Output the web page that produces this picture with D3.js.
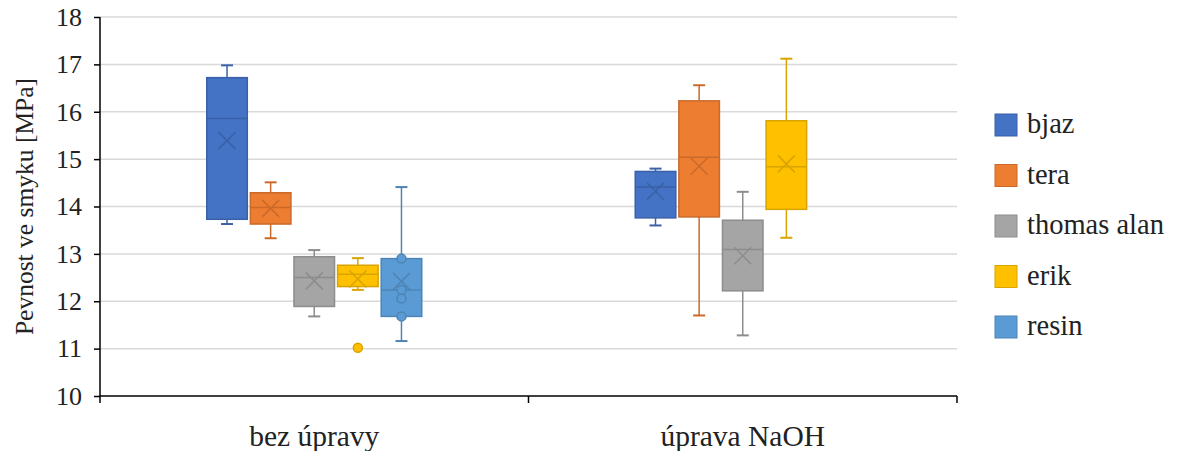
<!DOCTYPE html>
<html>
<head>
<meta charset="utf-8">
<script src="https://cdn.jsdelivr.net/npm/d3@7"></script>
<style>
  html, body { margin: 0; padding: 0; background: #fff; }
  svg { display: block; }
  svg text { font-family: 'Liberation Serif', 'Times New Roman', serif; }
</style>
</head>
<body>
<svg id="chart" width="1178" height="451"></svg>
<script>
// Shear strength of bonded joints: untreated vs NaOH-treated surfaces
const categories = ["bez úpravy", "úprava NaOH"];
const seriesNames = ["bjaz", "tera", "thomas alan", "erik", "resin"];
const seriesColors = ["#4472C4", "#ED7D31", "#A5A5A5", "#FFC000", "#5B9BD5"];
const yTicks = [10, 11, 12, 13, 14, 15, 16, 17, 18];

// Box statistics per series, one entry per category:
// [lower whisker, Q1, median, Q3, upper whisker, mean]
const bjaz = [[13.63, 13.73, 15.86, 16.72, 16.98, 15.39], [13.60, 13.76, 14.41, 14.74, 14.80, 14.32]];
const tera = [[13.33, 13.63, 13.98, 14.29, 14.51, 13.96], [11.70, 13.78, 15.04, 16.23, 16.56, 14.85]];
const thomasAlan = [[11.68, 11.89, 12.50, 12.94, 13.08, 12.43], [11.28, 12.22, 13.09, 13.71, 14.31, 12.96]];
const erik = [[12.24, 12.31, 12.57, 12.76, 12.91, 12.47], [13.34, 13.94, 14.84, 15.81, 17.12, 14.90]];
const resin = [[11.16, 11.68, 12.24, 12.90, 14.41, 12.42], null];

// Outlying and inner points per series, one list per category
const erikOutliers = [[11.02], []];
const resinInnerPoints = [[12.90, 12.24, 12.06, 11.68], []];

const seriesStats = [bjaz, tera, thomasAlan, erik, resin];
const seriesPoints = [[[], []], [[], []], [[], []], erikOutliers, resinInnerPoints];

const FONT = "'Liberation Serif', 'Times New Roman', serif";
const svg = d3.select("#chart");
const plot = { left: 100, right: 957, top: 17, bottom: 396 };

const x = d3.scaleBand().domain(categories).range([plot.left, plot.right]).padding(0);
const y = d3.scaleLinear().domain([10, 18]).range([plot.bottom, plot.top]);
const inner = d3.scaleBand().domain(seriesNames).range([-107.5, 107.5]).paddingInner(0.07);

// gridlines
svg.append("g")
  .selectAll("line")
  .data(yTicks.filter(t => t > 10))
  .join("line")
  .attr("x1", plot.left).attr("x2", plot.right)
  .attr("y1", d => y(d)).attr("y2", d => y(d))
  .attr("stroke", "#d9d9d9").attr("stroke-width", 1.5);

// y axis
const yAxis = svg.append("g")
  .attr("transform", `translate(${plot.left},0)`)
  .call(d3.axisLeft(y).tickValues(yTicks).tickSize(6).tickPadding(12).tickFormat(d3.format("d")));
yAxis.attr("font-family", null).attr("font-size", null);
yAxis.select(".domain").attr("stroke", "#000").attr("stroke-width", 1.5)
  .attr("d", `M0,${plot.top}V${plot.bottom}`);
yAxis.selectAll(".tick line").attr("stroke", "#000").attr("stroke-width", 1.5);
yAxis.selectAll(".tick text")
  .style("font-family", FONT)
  .style("font-size", "26px").attr("fill", "#222");

// x axis
const xAxisG = svg.append("g").attr("transform", `translate(0,${plot.bottom})`);
xAxisG.append("line")
  .attr("x1", plot.left).attr("x2", plot.right)
  .attr("stroke", "#000").attr("stroke-width", 1.5);
const boundaries = [plot.left, ...categories.map(c => x(c) + x.bandwidth())];
xAxisG.selectAll(".xtick")
  .data(boundaries)
  .join("line")
  .attr("class", "xtick")
  .attr("x1", d => d).attr("x2", d => d)
  .attr("y1", 0).attr("y2", 7)
  .attr("stroke", "#000").attr("stroke-width", 1.5);
xAxisG.selectAll(".xlabel")
  .data(categories)
  .join("text")
  .attr("class", "xlabel")
  .attr("x", d => x(d) + x.bandwidth() / 2)
  .attr("y", 50)
  .attr("text-anchor", "middle")
  .style("font-family", FONT)
  .style("font-size", "29.5px").attr("fill", "#222")
  .text(d => d);

// y axis title
svg.append("text")
  .attr("transform", `translate(33,${(plot.top + plot.bottom) / 2}) rotate(-90)`)
  .attr("text-anchor", "middle")
  .style("font-family", FONT)
  .style("font-size", "25.5px").attr("fill", "#222")
  .text("Pevnost ve smyku [MPa]");

// boxes
const boxesG = svg.append("g");
seriesNames.forEach((name, si) => {
  const color = seriesColors[si];
  const dark = d3.color(color).darker(0.45).formatHex();
  categories.forEach((cat, ci) => {
    const s = seriesStats[si][ci];
    if (!s) return;
    const [lo, q1, med, q3, hi, mean] = s;
    const bx = x(cat) + x.bandwidth() / 2 + inner(name);
    const bw = inner.bandwidth();
    const cx = bx + bw / 2;
    const g = boxesG.append("g");
    const capW = 6;
    // whiskers
    g.append("line").attr("x1", cx).attr("x2", cx).attr("y1", y(q3)).attr("y2", y(hi))
      .attr("stroke", dark).attr("stroke-width", 1.5);
    g.append("line").attr("x1", cx).attr("x2", cx).attr("y1", y(q1)).attr("y2", y(lo))
      .attr("stroke", dark).attr("stroke-width", 1.5);
    g.append("line").attr("x1", cx - capW).attr("x2", cx + capW).attr("y1", y(hi)).attr("y2", y(hi))
      .attr("stroke", dark).attr("stroke-width", 2);
    g.append("line").attr("x1", cx - capW).attr("x2", cx + capW).attr("y1", y(lo)).attr("y2", y(lo))
      .attr("stroke", dark).attr("stroke-width", 2);
    // box
    g.append("rect")
      .attr("x", bx).attr("width", bw)
      .attr("y", y(q3)).attr("height", y(q1) - y(q3))
      .attr("fill", color).attr("stroke", dark).attr("stroke-width", 1.5);
    // median
    g.append("line").attr("x1", bx).attr("x2", bx + bw).attr("y1", y(med)).attr("y2", y(med))
      .attr("stroke", dark).attr("stroke-width", 1.5);
    // mean marker
    const m = 8.5;
    g.append("path")
      .attr("d", `M${cx - m},${y(mean) - m}L${cx + m},${y(mean) + m}M${cx - m},${y(mean) + m}L${cx + m},${y(mean) - m}`)
      .attr("stroke", dark).attr("stroke-width", 1.5).attr("fill", "none");
    // points
    g.selectAll("circle")
      .data(seriesPoints[si][ci])
      .join("circle")
      .attr("cx", cx).attr("cy", d => y(d)).attr("r", 4.5)
      .attr("fill", color).attr("stroke", dark).attr("stroke-width", 1.5);
  });
});

// legend
const legend = svg.append("g").attr("transform", "translate(995,125)");
const rows = legend.selectAll("g")
  .data(seriesNames)
  .join("g")
  .attr("transform", (d, i) => `translate(0,${i * 50.5})`);
rows.append("rect")
  .attr("x", 0).attr("y", -11).attr("width", 22).attr("height", 22)
  .attr("fill", (d, i) => seriesColors[i])
  .attr("stroke", (d, i) => d3.color(seriesColors[i]).darker(0.45).formatHex())
  .attr("stroke-width", 1);
rows.append("text")
  .attr("x", 32).attr("y", 8)
  .style("font-family", FONT)
  .style("font-size", "28.5px").attr("fill", "#222")
  .text(d => d);
</script>
</body>
</html>
